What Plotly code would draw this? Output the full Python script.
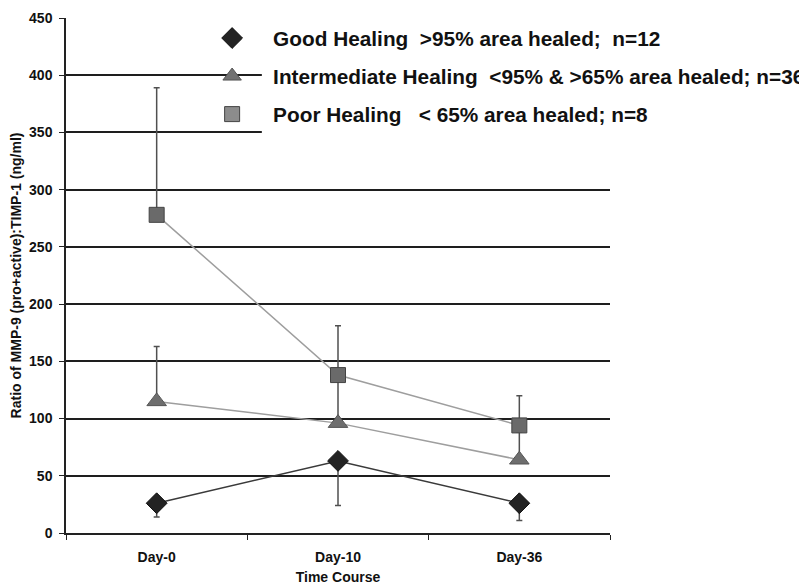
import plotly.graph_objects as go

days = ["Day-0", "Day-10", "Day-36"]

good = [26, 63, 26]
good_err_minus = [12, 39, 15]

inter = [115, 96, 64]
inter_err_plus = [48, 42, 24]

poor = [278, 138, 94]
poor_err_plus = [111, 43, 26]

names = [
    "Good Healing\u00a0\u00a0>95% area healed;\u00a0\u00a0n=12",
    "Intermediate Healing\u00a0\u00a0<95% & >65% area healed; n=36",
    "Poor Healing\u00a0\u00a0 < 65% area healed; n=8",
]

FONT = "Liberation Sans, Arial, sans-serif"
ERRC = "#505050"

styles = [
    dict(line=dict(color="#3a3a3a", width=1.5),
         marker=dict(symbol="diamond", size=16, color="#232323", line=dict(color="#111", width=1))),
    dict(line=dict(color="#9e9e9e", width=1.5),
         marker=dict(symbol="triangle-up", size=17, color="#6e6e6e", line=dict(color="#555", width=1))),
    dict(line=dict(color="#9e9e9e", width=1.5),
         marker=dict(symbol="square", size=15, color="#6a6a6a", line=dict(color="#444", width=1))),
]

fig = go.Figure()

fig.add_trace(go.Scatter(
    x=days, y=good, mode="lines+markers", showlegend=False, **styles[0],
    error_y=dict(type="data", symmetric=False, array=[0, 0, 0], arrayminus=good_err_minus,
                 color=ERRC, thickness=1.5, width=3),
))
fig.add_trace(go.Scatter(
    x=days, y=inter, mode="lines+markers", showlegend=False, **styles[1],
    error_y=dict(type="data", symmetric=False, array=inter_err_plus, arrayminus=[0, 0, 0],
                 color=ERRC, thickness=1.5, width=3),
))
fig.add_trace(go.Scatter(
    x=days, y=poor, mode="lines+markers", showlegend=False, **styles[2],
    error_y=dict(type="data", symmetric=False, array=poor_err_plus, arrayminus=[0, 0, 0],
                 color=ERRC, thickness=1.5, width=3),
))

# legend entries (marker only, as in the original)
for i, nm in enumerate(names):
    m = dict(styles[i]["marker"])
    m["color"] = ["#232323", "#727272", "#8c8c8c"][i]
    fig.add_trace(go.Scatter(x=[None], y=[None], mode="markers", name=nm,
                             legendgroup=f"g{i}", marker=m))

# white band behind the legend text (legend hides gridlines there)
fig.add_shape(type="rect", xref="paper", yref="paper", x0=0.36, x1=1.4, y0=0.745, y1=0.99,
              fillcolor="white", line=dict(width=0), layer="above")

fig.update_layout(
    width=799, height=577,
    margin=dict(l=58, r=197, t=10, b=52, autoexpand=False),
    paper_bgcolor="white", plot_bgcolor="white",
    font=dict(family=FONT, color="#111", weight="bold"),
    showlegend=True,
    legend=dict(
        x=0.230, y=1.0, xanchor="left", yanchor="top",
        bgcolor="rgba(0,0,0,0)", font=dict(size=20.8, family=FONT, weight="bold", color="#111"),
        tracegroupgap=8, itemwidth=72, traceorder="grouped",
    ),
    xaxis=dict(
        type="category", range=[-0.5, 2.5], showgrid=False, automargin=False,
        showline=True, linecolor="#222", linewidth=1.5,
        ticks="outside", ticklen=5, tickcolor="#222", tickson="boundaries",
        ticklabelstandoff=10,
        tickfont=dict(size=14, family=FONT, weight="bold"),
        title=dict(text="Time Course", font=dict(size=14, family=FONT, weight="bold"), standoff=11),
    ),
    yaxis=dict(
        range=[0, 450], dtick=50, showgrid=True, gridcolor="#1e1e1e", gridwidth=1.5,
        zeroline=False, showline=True, linecolor="#222", linewidth=1.5, automargin=False,
        ticks="outside", ticklen=5, tickcolor="#222", ticklabelstandoff=4,
        tickfont=dict(size=14, family=FONT, weight="bold"),
        title=dict(text="Ratio of MMP-9 (pro+active):TIMP-1 (ng/ml)",
                   font=dict(size=14, family=FONT, weight="bold"), standoff=5),
    ),
)

fig.write_html("out.html")
